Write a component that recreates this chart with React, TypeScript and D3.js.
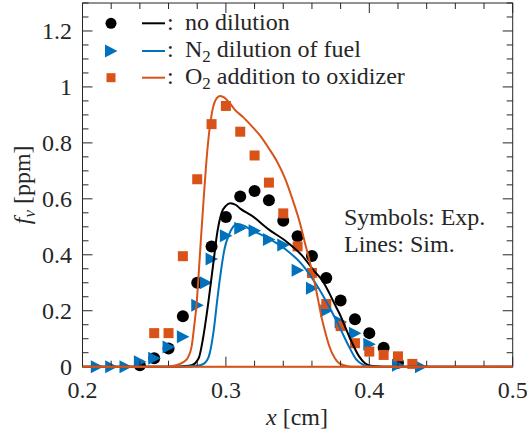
import React from "react";
import * as d3 from "d3";

// ---- Data ----
const expNoDilX = [0.24, 0.25, 0.26, 0.27, 0.28, 0.29, 0.30, 0.31, 0.32, 0.33, 0.34, 0.35, 0.36, 0.37, 0.38, 0.39, 0.40, 0.41, 0.42];
const expNoDilY = [0.005, 0.03, 0.065, 0.18, 0.30, 0.43, 0.535, 0.608, 0.628, 0.595, 0.522, 0.466, 0.396, 0.317, 0.237, 0.17, 0.12, 0.068, 0.014];

const expN2X = [0.21, 0.22, 0.23, 0.24, 0.25, 0.26, 0.27, 0.28, 0.286, 0.29, 0.30, 0.31, 0.32, 0.33, 0.34, 0.35, 0.36, 0.37, 0.38, 0.39, 0.40, 0.42, 0.436];
const expN2Y = [0, 0, 0, 0.018, 0.03, 0.07, 0.107, 0.22, 0.30, 0.385, 0.468, 0.495, 0.486, 0.455, 0.435, 0.345, 0.28, 0.2, 0.16, 0.12, 0.08, 0.005, 0];

const expO2X = [0.25, 0.26, 0.27, 0.28, 0.29, 0.30, 0.31, 0.32, 0.33, 0.34, 0.35, 0.36, 0.37, 0.38, 0.39, 0.40, 0.41, 0.42, 0.43];
const expO2Y = [0.12, 0.12, 0.395, 0.67, 0.867, 0.932, 0.84, 0.755, 0.658, 0.548, 0.43, 0.335, 0.224, 0.145, 0.084, 0.054, 0.042, 0.037, 0.01];

const simNoDilX = [0.2, 0.26, 0.27, 0.276, 0.281, 0.284, 0.2875, 0.291, 0.294, 0.297, 0.3, 0.303, 0.307, 0.31, 0.318, 0.33, 0.3415, 0.353, 0.3625, 0.367, 0.372, 0.3766, 0.379, 0.386, 0.393, 0.397, 0.401, 0.41, 0.5];
const simNoDilY = [0, 0, 0.002, 0.005, 0.03, 0.1, 0.22, 0.36, 0.48, 0.55, 0.575, 0.584, 0.578, 0.565, 0.54, 0.49, 0.45, 0.398, 0.336, 0.31, 0.264, 0.216, 0.192, 0.108, 0.036, 0.012, 0.003, 0, 0];

const simN2X = [0.2, 0.27, 0.28, 0.285, 0.288, 0.2915, 0.294, 0.2965, 0.299, 0.302, 0.305, 0.308, 0.312, 0.318, 0.33, 0.3415, 0.353, 0.3625, 0.372, 0.379, 0.386, 0.391, 0.396, 0.40, 0.41, 0.5];
const simN2Y = [0, 0, 0.003, 0.012, 0.035, 0.13, 0.24, 0.34, 0.42, 0.47, 0.5, 0.51, 0.505, 0.488, 0.458, 0.42, 0.366, 0.298, 0.214, 0.144, 0.07, 0.025, 0.006, 0.001, 0, 0];

const simO2X = [0.2, 0.255, 0.262, 0.268, 0.2725, 0.276, 0.278, 0.2795, 0.281, 0.2825, 0.2845, 0.287, 0.29, 0.293, 0.296, 0.299, 0.303, 0.306, 0.312, 0.318, 0.324, 0.33, 0.336, 0.3415, 0.347, 0.351, 0.355, 0.358, 0.3625, 0.367, 0.37, 0.372, 0.376, 0.379, 0.385, 0.39, 0.5];
const simO2Y = [0, 0, 0.002, 0.01, 0.025, 0.07, 0.15, 0.22, 0.33, 0.45, 0.6, 0.77, 0.9, 0.955, 0.968, 0.962, 0.94, 0.92, 0.892, 0.86, 0.825, 0.78, 0.73, 0.67, 0.59, 0.525, 0.445, 0.385, 0.285, 0.17, 0.11, 0.075, 0.03, 0.012, 0.002, 0, 0];

const xTickLabels = ["0.2", "0.3", "0.4", "0.5"];
const yTickLabels = ["0", "0.2", "0.4", "0.6", "0.8", "1", "1.2"];
const legendLabels = ["no dilution", "dilution of fuel", "addition to oxidizer"];

const BLACK = "#000000";
const BLUE = "#0072BD";
const ORANGE = "#D95319";
const AX = "#262626";
const FONT = "Liberation Serif, DejaVu Serif, serif";

export default function App() {
  const W = 527, H = 438;
  const x = d3.scaleLinear().domain([0.2, 0.5]).range([82.5, 512.7]);
  const y = d3.scaleLinear().domain([0, 1.3]).range([366.7, 3]);
  const x0 = x(0.2), x1 = x(0.5), y0 = y(0), y1 = y(1.3);

  const line = d3.line<[number, number]>().x(d => x(d[0])).y(d => y(d[1])).curve(d3.curveMonotoneX);
  const zip = (a: number[], b: number[]) => a.map((v, i) => [v, b[i]] as [number, number]);

  const xMinor = d3.range(0, 16).map(i => 0.2 + i * 0.02);
  const yMinor = d3.range(0, 27).map(i => i * 0.05);
  const isMajorX = (v: number) => Math.abs(v * 10 - Math.round(v * 10)) < 1e-6;
  const isMajorY = (v: number) => Math.abs(v * 5 - Math.round(v * 5)) < 1e-6;

  const circ = (cx: number, cy: number, key: string, r = 6) => <circle key={key} cx={cx} cy={cy} r={r} fill={BLACK} />;
  const tri = (cx: number, cy: number, key: string) => (
    <path key={key} d={`M${cx - 6},${cy - 6.5}L${cx + 6.5},${cy}L${cx - 6},${cy + 6.5}Z`} fill={BLUE} />
  );
  const sq = (cx: number, cy: number, key: string, s = 10) => (
    <rect key={key} x={cx - s / 2} y={cy - s / 2} width={s} height={s} fill={ORANGE} />
  );

  const tStyle = { fontFamily: FONT, fontSize: "24px" } as React.CSSProperties;

  return (
    <svg width={W} height={H} style={{ position: "absolute", left: 0, top: 0, background: "#fff", fontFamily: FONT }}>
      {/* markers */}
      {expNoDilX.map((v, i) => circ(x(v), y(expNoDilY[i]), "c" + i))}
      {expN2X.map((v, i) => tri(x(v), y(expN2Y[i]), "t" + i))}
      {expO2X.map((v, i) => sq(x(v), y(expO2Y[i]), "s" + i))}
      {/* lines */}
      <path d={line(zip(simNoDilX, simNoDilY)) || ""} fill="none" stroke={BLACK} strokeWidth={2} />
      <path d={line(zip(simN2X, simN2Y)) || ""} fill="none" stroke={BLUE} strokeWidth={2} />
      <path d={line(zip(simO2X, simO2Y)) || ""} fill="none" stroke={ORANGE} strokeWidth={2} />

      {/* axes box */}
      <rect x={x0} y={y1} width={x1 - x0} height={y0 - y1} fill="none" stroke={AX} strokeWidth={1} />
      {xMinor.map((v, i) => {
        const L = isMajorX(v) ? 10 : 6;
        return (
          <g key={"xt" + i} stroke={AX} strokeWidth={1}>
            <line x1={x(v)} x2={x(v)} y1={y0} y2={y0 - L} />
            <line x1={x(v)} x2={x(v)} y1={y1} y2={y1 + L} />
          </g>
        );
      })}
      {yMinor.map((v, i) => {
        const L = isMajorY(v) ? 10 : 6;
        return (
          <g key={"yt" + i} stroke={AX} strokeWidth={1}>
            <line x1={x0} x2={x0 + L} y1={y(v)} y2={y(v)} />
            <line x1={x1} x2={x1 - L} y1={y(v)} y2={y(v)} />
          </g>
        );
      })}
      {/* orange simulated baseline lies over the x axis as in reference */}
      <line x1={x0} x2={x1} y1={y0} y2={y0} stroke={ORANGE} strokeWidth={2} />

      {xTickLabels.map((t, i) => (
        <text key={"xl" + i} x={x(+t)} y={398} textAnchor="middle" style={tStyle} fill={AX}>{t}</text>
      ))}
      {yTickLabels.map((t, i) => (
        <text key={"yl" + i} x={72} y={y(+t) + 8} textAnchor="end" style={tStyle} fill={AX}>{t}</text>
      ))}

      {/* axis labels */}
      <text x={297} y={425} textAnchor="middle" style={tStyle} fill={AX}>
        <tspan fontStyle="italic">x</tspan> [cm]
      </text>
      <text transform={`translate(30,${(y0 + y1) / 2}) rotate(-90)`} textAnchor="middle" style={tStyle} fill={AX}>
        <tspan fontStyle="italic">f</tspan>
        <tspan fontStyle="italic" style={{ fontSize: "17px" }} dy={5}>v</tspan>
        <tspan dy={-5}> [ppm]</tspan>
      </text>

      {/* legend */}
      {circ(111, 23.3, "lc", 5.5)}
      {tri(111, 51, "lt")}
      {sq(111, 77.7, "ls", 9)}
      <line x1={142} x2={165} y1={23.3} y2={23.3} stroke={BLACK} strokeWidth={2} />
      <line x1={142} x2={165} y1={51} y2={51} stroke={BLUE} strokeWidth={2} />
      <line x1={142} x2={165} y1={77.7} y2={77.7} stroke={ORANGE} strokeWidth={2} />
      <text x={167} y={29.5} style={tStyle} fill={AX}>:</text>
      <text x={167} y={57} style={tStyle} fill={AX}>:</text>
      <text x={167} y={84} style={tStyle} fill={AX}>:</text>
      <text x={185} y={29.5} style={tStyle} fill={AX}>{legendLabels[0]}</text>
      <text x={185} y={57} style={tStyle} fill={AX}>
        N<tspan style={{ fontSize: "17px" }} dy={5}>2</tspan><tspan dy={-5}> {legendLabels[1]}</tspan>
      </text>
      <text x={185} y={84} style={tStyle} fill={AX}>
        O<tspan style={{ fontSize: "17px" }} dy={5}>2</tspan><tspan dy={-5}> {legendLabels[2]}</tspan>
      </text>

      <text x={344} y={225} style={tStyle} fill={AX}>Symbols: Exp.</text>
      <text x={344} y={252} style={tStyle} fill={AX}>Lines: Sim.</text>
    </svg>
  );
}
